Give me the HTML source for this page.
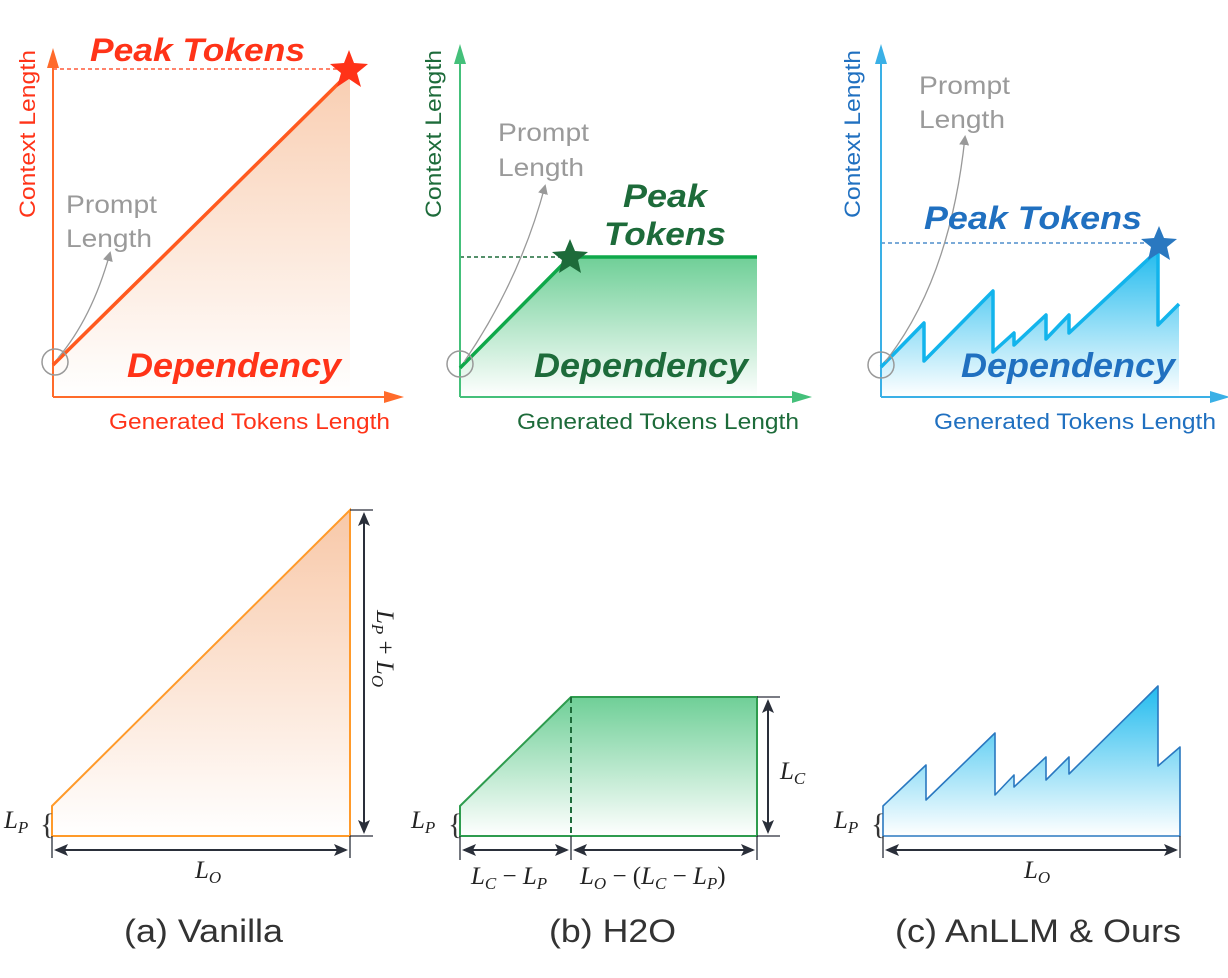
<!DOCTYPE html>
<html><head><meta charset="utf-8"><style>
html,body{margin:0;padding:0;background:#fff;}
svg{display:block;font-family:"Liberation Sans",sans-serif;}
.m{font-family:"Liberation Serif",serif;font-style:italic;fill:#222;}
</style></head><body>
<svg width="1228" height="978" viewBox="0 0 1228 978">
<defs>
<linearGradient id="go" x1="0" y1="0" x2="0" y2="1"><stop offset="0" stop-color="#f8c8a8"/><stop offset="1" stop-color="#fff"/></linearGradient>
<linearGradient id="gg" x1="0" y1="0" x2="0" y2="1"><stop offset="0" stop-color="#6fcf97"/><stop offset="1" stop-color="#fff"/></linearGradient>
<linearGradient id="gb" x1="0" y1="0" x2="0" y2="1"><stop offset="0" stop-color="#22bbee"/><stop offset="1" stop-color="#fff"/></linearGradient>
<marker id="ao" markerWidth="20" markerHeight="12" refX="16" refY="6" orient="auto" markerUnits="userSpaceOnUse"><path d="M0,0 L20,6 L0,12z" fill="#ff6b2b"/></marker>
<marker id="ag" markerWidth="20" markerHeight="12" refX="16" refY="6" orient="auto" markerUnits="userSpaceOnUse"><path d="M0,0 L20,6 L0,12z" fill="#44c07a"/></marker>
<marker id="ab" markerWidth="20" markerHeight="12" refX="16" refY="6" orient="auto" markerUnits="userSpaceOnUse"><path d="M0,0 L20,6 L0,12z" fill="#3ab0e6"/></marker>
<marker id="agr" markerWidth="10" markerHeight="10" refX="8" refY="5" orient="auto" markerUnits="userSpaceOnUse"><path d="M0,0 L10,5 L0,10z" fill="#999"/></marker>
<marker id="ak" markerWidth="14" markerHeight="12" refX="12" refY="6" orient="auto" markerUnits="userSpaceOnUse"><path d="M0,0 L14,6 L0,12 L3,6z" fill="#2a2f3a"/></marker>
<marker id="aks" markerWidth="14" markerHeight="12" refX="12" refY="6" orient="auto-start-reverse" markerUnits="userSpaceOnUse"><path d="M0,0 L14,6 L0,12 L3,6z" fill="#2a2f3a"/></marker>
</defs>

<!-- ===== Top A ===== -->
<polygon points="53,365 350,70 350,397 53,397" fill="url(#go)" opacity="0.9"/>
<line x1="53" y1="69" x2="345" y2="69" stroke="#ff5a3a" stroke-width="1.5" stroke-dasharray="4,3"/>
<line x1="53" y1="397" x2="53" y2="52" stroke="#ff6b2b" stroke-width="2" marker-end="url(#ao)"/>
<line x1="53" y1="397" x2="400" y2="397" stroke="#ff6b2b" stroke-width="2" marker-end="url(#ao)"/>
<line x1="53" y1="365" x2="350" y2="72" stroke="#ff5a1f" stroke-width="3.5"/>
<path d="M58,358 Q92,318 110,253" fill="none" stroke="#999" stroke-width="1.3" marker-end="url(#agr)"/>
<circle cx="55" cy="362" r="13" fill="none" stroke="#999" stroke-width="1.5"/>
<polygon points="349,50 354,63 368,64 357,73 361,87 349,79 337,87 341,73 330,64 344,63" fill="#ff3318"/>
<text x="90" y="61" font-size="32" font-weight="bold" font-style="italic" fill="#ff3318" textLength="215" lengthAdjust="spacingAndGlyphs">Peak Tokens</text>
<text x="127" y="377" font-size="34" font-weight="bold" font-style="italic" fill="#ff3318" textLength="214" lengthAdjust="spacingAndGlyphs">Dependency</text>
<text x="66" y="213" font-size="25" fill="#9a9a9a" textLength="91" lengthAdjust="spacingAndGlyphs">Prompt</text>
<text x="66" y="247" font-size="25" fill="#9a9a9a" textLength="86" lengthAdjust="spacingAndGlyphs">Length</text>
<text x="109" y="429" font-size="22" fill="#ff3318" textLength="281" lengthAdjust="spacingAndGlyphs">Generated Tokens Length</text>
<text transform="translate(35,218) rotate(-90)" font-size="22" fill="#ff3318" textLength="168" lengthAdjust="spacingAndGlyphs">Context Length</text>

<!-- ===== Top B ===== -->
<polygon points="460,368 570,257 757,257 757,397 460,397" fill="url(#gg)"/>
<line x1="460" y1="257" x2="565" y2="257" stroke="#1d6b3a" stroke-width="1.5" stroke-dasharray="4,3"/>
<line x1="460" y1="397" x2="460" y2="48" stroke="#44c07a" stroke-width="2" marker-end="url(#ag)"/>
<line x1="460" y1="397" x2="808" y2="397" stroke="#44c07a" stroke-width="2" marker-end="url(#ag)"/>
<polyline points="460,368 570,257 757,257" fill="none" stroke="#0fa84a" stroke-width="3.5"/>
<path d="M464,362 Q520,280 545,186" fill="none" stroke="#999" stroke-width="1.3" marker-end="url(#agr)"/>
<circle cx="460" cy="364" r="13" fill="none" stroke="#999" stroke-width="1.5"/>
<polygon points="570,239 575,251 588,252 578,260 581,273 570,266 559,273 562,260 552,252 565,251" fill="#1d6b3a"/>
<text x="623" y="207" font-size="32" font-weight="bold" font-style="italic" fill="#1d6b3a" textLength="84" lengthAdjust="spacingAndGlyphs">Peak</text>
<text x="604" y="245" font-size="32" font-weight="bold" font-style="italic" fill="#1d6b3a" textLength="122" lengthAdjust="spacingAndGlyphs">Tokens</text>
<text x="534" y="377" font-size="34" font-weight="bold" font-style="italic" fill="#1d6b3a" textLength="214" lengthAdjust="spacingAndGlyphs">Dependency</text>
<text x="498" y="141" font-size="25" fill="#9a9a9a" textLength="91" lengthAdjust="spacingAndGlyphs">Prompt</text>
<text x="498" y="176" font-size="25" fill="#9a9a9a" textLength="86" lengthAdjust="spacingAndGlyphs">Length</text>
<text x="517" y="429" font-size="22" fill="#1d6b3a" textLength="282" lengthAdjust="spacingAndGlyphs">Generated Tokens Length</text>
<text transform="translate(441,218) rotate(-90)" font-size="22" fill="#1d6b3a" textLength="168" lengthAdjust="spacingAndGlyphs">Context Length</text>

<!-- ===== Top C ===== -->
<polygon points="881,367 924,323 924,361 993,291 993,352 1014,333 1014,345 1046,315 1046,339 1069,315 1069,333 1158,250 1158,325 1179,304 1179,397 881,397" fill="url(#gb)"/>
<line x1="881" y1="243" x2="1150" y2="243" stroke="#2a78c0" stroke-width="1.3" stroke-dasharray="4,3"/>
<line x1="881" y1="397" x2="881" y2="48" stroke="#3ab0e6" stroke-width="2" marker-end="url(#ab)"/>
<line x1="881" y1="397" x2="1226" y2="397" stroke="#3ab0e6" stroke-width="2" marker-end="url(#ab)"/>
<polyline points="881,367 924,323 924,361 993,291 993,352 1014,333 1014,345 1046,315 1046,339 1069,315 1069,333 1158,250 1158,325 1179,304" fill="none" stroke="#12b4ec" stroke-width="3.5" stroke-linejoin="round"/>
<path d="M885,362 Q950,280 965,137" fill="none" stroke="#999" stroke-width="1.3" marker-end="url(#agr)"/>
<circle cx="881" cy="365" r="13" fill="none" stroke="#999" stroke-width="1.5"/>
<polygon points="1159,226 1164,238 1177,239 1167,247 1170,260 1159,253 1148,260 1151,247 1141,239 1154,238" fill="#2a78c0"/>
<text x="924" y="229" font-size="32" font-weight="bold" font-style="italic" fill="#2070c0" textLength="218" lengthAdjust="spacingAndGlyphs">Peak Tokens</text>
<text x="961" y="377" font-size="34" font-weight="bold" font-style="italic" fill="#2070c0" textLength="214" lengthAdjust="spacingAndGlyphs">Dependency</text>
<text x="919" y="94" font-size="25" fill="#9a9a9a" textLength="91" lengthAdjust="spacingAndGlyphs">Prompt</text>
<text x="919" y="128" font-size="25" fill="#9a9a9a" textLength="86" lengthAdjust="spacingAndGlyphs">Length</text>
<text x="934" y="429" font-size="22" fill="#2070c0" textLength="282" lengthAdjust="spacingAndGlyphs">Generated Tokens Length</text>
<text transform="translate(860,218) rotate(-90)" font-size="22" fill="#2070c0" textLength="168" lengthAdjust="spacingAndGlyphs">Context Length</text>

<!-- ===== Bottom A ===== -->
<polygon points="52,806 350,510 350,836 52,836" fill="url(#go)" stroke="#ff9a2a" stroke-width="2"/>
<line x1="350" y1="510" x2="373" y2="510" stroke="#2a2f3a" stroke-width="1.3"/>
<line x1="350" y1="836" x2="373" y2="836" stroke="#2a2f3a" stroke-width="1.3"/>
<line x1="364" y1="514" x2="364" y2="832" stroke="#2a2f3a" stroke-width="2" marker-start="url(#aks)" marker-end="url(#ak)"/>
<line x1="52" y1="836" x2="52" y2="858" stroke="#2a2f3a" stroke-width="1.3"/>
<line x1="350" y1="836" x2="350" y2="858" stroke="#2a2f3a" stroke-width="1.3"/>
<line x1="56" y1="850" x2="346" y2="850" stroke="#2a2f3a" stroke-width="2" marker-start="url(#aks)" marker-end="url(#ak)"/>
<text class="m" x="195" y="878" font-size="25">L<tspan font-size="17" dy="5">O</tspan></text>
<text class="m" transform="translate(377,610) rotate(90)" font-size="25">L<tspan font-size="17" dy="5">P</tspan><tspan dy="-5" font-style="normal"> + </tspan>L<tspan font-size="17" dy="5">O</tspan></text>
<text class="m" x="4" y="828" font-size="25">L<tspan font-size="17" dy="5">P</tspan></text>
<text x="40" y="834" font-size="30" fill="#333" font-family="Liberation Serif">{</text>
<text x="124" y="942" font-size="32" fill="#333" textLength="159" lengthAdjust="spacingAndGlyphs">(a) Vanilla</text>

<!-- ===== Bottom B ===== -->
<polygon points="460,806 571,697 757,697 757,836 460,836" fill="url(#gg)" stroke="#2e9c4e" stroke-width="2"/>
<line x1="571" y1="697" x2="571" y2="836" stroke="#1d6b3a" stroke-width="2" stroke-dasharray="6,4"/>
<line x1="757" y1="697" x2="780" y2="697" stroke="#2a2f3a" stroke-width="1.3"/>
<line x1="757" y1="836" x2="780" y2="836" stroke="#2a2f3a" stroke-width="1.3"/>
<line x1="768" y1="701" x2="768" y2="832" stroke="#2a2f3a" stroke-width="2" marker-start="url(#aks)" marker-end="url(#ak)"/>
<line x1="460" y1="836" x2="460" y2="860" stroke="#2a2f3a" stroke-width="1.3"/>
<line x1="571" y1="836" x2="571" y2="860" stroke="#2a2f3a" stroke-width="1.3"/>
<line x1="757" y1="836" x2="757" y2="860" stroke="#2a2f3a" stroke-width="1.3"/>
<line x1="464" y1="850" x2="567" y2="850" stroke="#2a2f3a" stroke-width="2" marker-start="url(#aks)" marker-end="url(#ak)"/>
<line x1="575" y1="850" x2="753" y2="850" stroke="#2a2f3a" stroke-width="2" marker-start="url(#aks)" marker-end="url(#ak)"/>
<text class="m" x="780" y="779" font-size="25">L<tspan font-size="17" dy="5">C</tspan></text>
<text class="m" x="411" y="828" font-size="25">L<tspan font-size="17" dy="5">P</tspan></text>
<text x="448" y="834" font-size="30" fill="#333" font-family="Liberation Serif">{</text>
<text class="m" x="471" y="884" font-size="25">L<tspan font-size="17" dy="5">C</tspan><tspan dy="-5" font-style="normal"> − </tspan>L<tspan font-size="17" dy="5">P</tspan></text>
<text class="m" x="580" y="884" font-size="25">L<tspan font-size="17" dy="5">O</tspan><tspan dy="-5" font-style="normal"> − (</tspan>L<tspan font-size="17" dy="5">C</tspan><tspan dy="-5" font-style="normal"> − </tspan>L<tspan font-size="17" dy="5">P</tspan><tspan dy="-5" font-style="normal">)</tspan></text>
<text x="549" y="942" font-size="32" fill="#333" textLength="127" lengthAdjust="spacingAndGlyphs">(b) H2O</text>

<!-- ===== Bottom C ===== -->
<polygon points="883,806 926,765 926,800 995,733 995,795 1014,775 1014,787 1046,757 1046,780 1069,757 1069,774 1158,686 1158,766 1180,747 1180,836 883,836" fill="url(#gb)" stroke="#2a78c0" stroke-width="1.6" stroke-linejoin="round"/>
<line x1="883" y1="836" x2="883" y2="858" stroke="#2a2f3a" stroke-width="1.3"/>
<line x1="1180" y1="836" x2="1180" y2="858" stroke="#2a2f3a" stroke-width="1.3"/>
<line x1="887" y1="850" x2="1176" y2="850" stroke="#2a2f3a" stroke-width="2" marker-start="url(#aks)" marker-end="url(#ak)"/>
<text class="m" x="1024" y="878" font-size="25">L<tspan font-size="17" dy="5">O</tspan></text>
<text class="m" x="834" y="828" font-size="25">L<tspan font-size="17" dy="5">P</tspan></text>
<text x="871" y="834" font-size="30" fill="#333" font-family="Liberation Serif">{</text>
<text x="895" y="942" font-size="32" fill="#333" textLength="286" lengthAdjust="spacingAndGlyphs">(c) AnLLM &amp; Ours</text>
</svg>
</body></html>
